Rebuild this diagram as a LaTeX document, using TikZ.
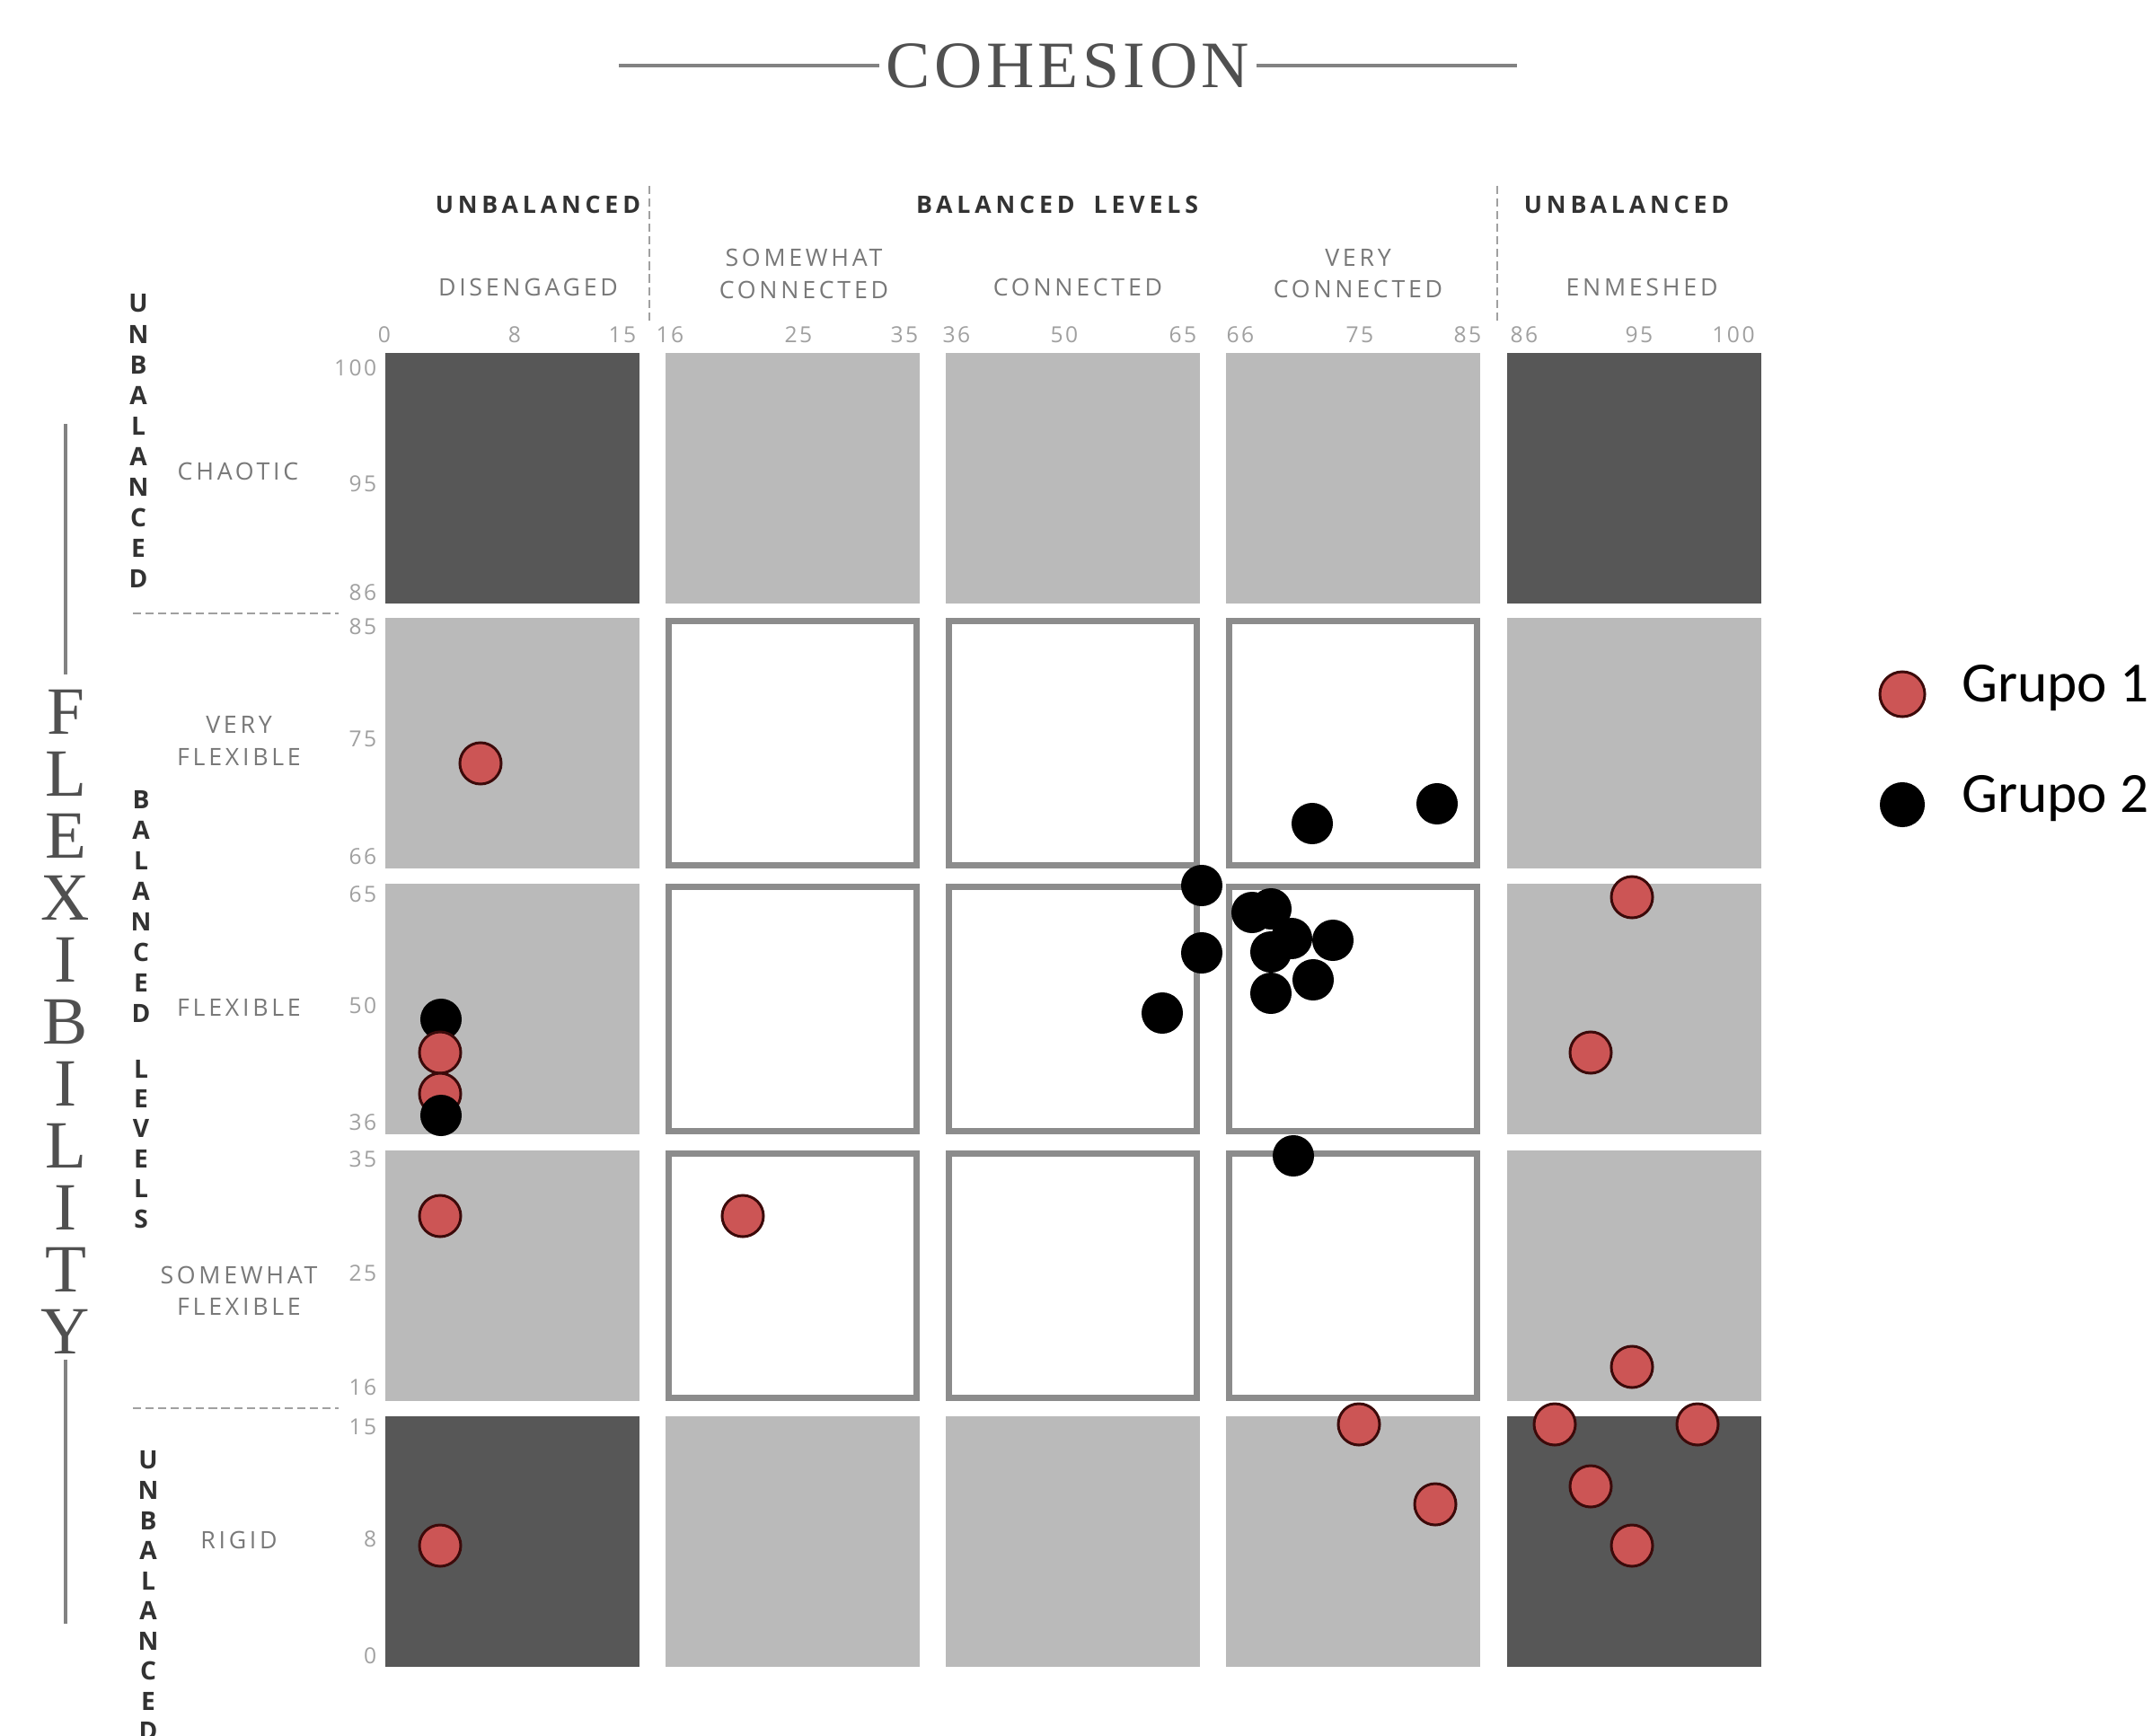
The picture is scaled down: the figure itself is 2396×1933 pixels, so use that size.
\documentclass[tikz,border=0pt]{standalone}
\usepackage{fontspec}
\setmainfont{Liberation Serif}
\setsansfont{Open Sans}
\newfontfamily\gridfont[LetterSpace=14]{Open Sans}
\newfontfamily\headfont[LetterSpace=18]{Open Sans}
\newfontfamily\tickfont[LetterSpace=10]{Open Sans}
\newfontfamily\titlefont[LetterSpace=6]{Liberation Serif}
\newfontfamily\legendfont{Carlito}
\usepackage{tikz}
\usetikzlibrary{positioning}
\definecolor{celldark}{RGB}{87,87,87}
\definecolor{celllight}{RGB}{186,186,186}
\definecolor{cellframe}{RGB}{140,140,140}
\definecolor{grupored}{RGB}{204,85,85}
\definecolor{grupoedge}{RGB}{60,10,10}
\definecolor{tickgray}{RGB}{160,160,160}
\definecolor{labelgray}{RGB}{120,120,120}
\definecolor{headdark}{RGB}{50,50,50}
\definecolor{titlegray}{RGB}{80,80,80}
\definecolor{rulegray}{RGB}{130,130,130}
\tikzset{
  titletext/.style={font=\titlefont\fontsize{21}{24}\selectfont, text=titlegray, inner sep=2pt},
  titlerule/.style={draw=rulegray, line width=1.4pt},
  flexletter/.style={font=\rmfamily\fontsize{21.4}{24}\selectfont, text=titlegray, inner sep=0pt},
  sideletter/.style={font=\sffamily\bfseries\fontsize{8}{9}\selectfont, text=headdark, inner sep=0pt},
  sepline/.style={draw=tickgray, line width=0.8pt, dash pattern=on 2.6pt off 1.4pt},
  headtext/.style={font=\headfont\bfseries\fontsize{7.6}{10}\selectfont, text=headdark, inner sep=0pt},
  gridtext/.style={font=\gridfont\fontsize{7.6}{10}\selectfont, text=labelgray, align=center, inner sep=0pt},
  ticktext/.style={font=\tickfont\fontsize{7}{8}\selectfont, text=tickgray, inner sep=0pt},
  lightcell/.style={fill=celllight},
  darkcell/.style={fill=celldark},
  framecell/.style={fill=white, draw=cellframe, line width=2pt},
  markA/.style={fill=grupored, draw=grupoedge, line width=0.85pt},
  markB/.style={fill=black},
  legdot/.style={circle, minimum size=0.5cm, inner sep=0pt, line width=0.85pt},
  legtext/.style={font=\legendfont\fontsize{18}{22}\selectfont, inner sep=0pt}
}

\begin{document}
\begin{tikzpicture}[x=0.01cm, y=-0.01cm]
        \clip (0,0) rectangle (2396,1933);
        % Title
        \node[titletext] (cohesion) at (1189,73) {COHESION};
        \draw[titlerule] (cohesion.west) -- ++(-290,0);
        \draw[titlerule] (cohesion.east) -- ++(290,0);
        % FLEXIBILITY, one letter under the other
        \foreach \l [count=\i from 0] in {F,L,E,X,I,B,I,L,I,T,Y}
          \node[flexletter] (flex\i) at (73,{793+69*\i}) {\l};
        \draw[titlerule] ([yshift=4.7pt]flex0.north) -- ++(0,-279);
        \draw[titlerule] ([yshift=-1.6pt]flex10.south) -- ++(0,294);
        % Side captions
        \foreach \l [count=\i from 0] in {U,N,B,A,L,A,N,C,E,D}
          \node[sideletter] (unbtop\i) at (154,{338+34*\i}) {\l};
        \foreach \l [count=\i from 0] in {B,A,L,A,N,C,E,D}
          \node[sideletter] (bal\i) at (157,{890+34*\i}) {\l};
        \foreach \l [count=\i from 0] in {L,E,V,E,L,S}
          \node[sideletter] (lev\i) at (157,{1190+33.4*\i}) {\l};
        \foreach \l [count=\i from 0] in {U,N,B,A,L,A,N,C,E,D}
          \node[sideletter] (unbbot\i) at (165,{1626+33.5*\i}) {\l};
        % Dashed separators
        \draw[sepline] (148,683) -- (377,683);
        \draw[sepline] (148,1568) -- (377,1568);
        \draw[sepline] (723,207) -- (723,357);
        \draw[sepline] (1667,207) -- (1667,357);
        % Column headings
        \node[headtext] (hunbl) at (599,228) {UNBALANCED};
        \node[headtext] (hbal) at (1177,228) {BALANCED\hspace{6pt}LEVELS};
        \node[headtext] (hunbr) at (1811,228) {UNBALANCED};
        \node[gridtext] (hdis) at (588,320) {DISENGAGED};
        \node[gridtext] (hsom) at (895,305) {SOMEWHAT\\CONNECTED};
        \node[gridtext] (hcon) at (1200,320) {CONNECTED};
        \node[gridtext] (hvery) at (1512,305) {VERY\\CONNECTED};
        \node[gridtext] (hen) at (1828,320) {ENMESHED};
        % Row headings
        \node[gridtext] (rchaotic) at (265,525) {CHAOTIC};
        \node[gridtext] (rveryflex) at (266,825) {VERY\\FLEXIBLE};
        \node[gridtext] (rflex) at (266,1122) {FLEXIBLE};
        \node[gridtext] (rsomeflex) at (266,1437) {SOMEWHAT\\FLEXIBLE};
        \node[gridtext] (rrigid) at (266,1715) {RIGID};
        % Tick labels
        \foreach \v/\x in {0/428,8/573,15/693,16/746,25/889,35/1007,36/1065,50/1185,
                           65/1317,66/1381,75/1514,85/1634,86/1697,95/1825,100/1930}
          \node[ticktext] (tx\v) at (\x,373) {\v};
        \foreach \v/\y in {100/410,95/539,86/660,85/698,75/823,66/954,65/996,50/1120,
                           36/1250,35/1291,25/1418,16/1545,15/1589,8/1714,0/1844}
          \node[ticktext, anchor=east] (ty\v) at (420,\y) {\v};
        % Cells
        \foreach \x in {429,741,1053,1365,1678}
          \foreach \y in {393,688,984,1281,1577}
            \fill[lightcell] (\x,\y) rectangle ++(283,279);
        \foreach \x/\y in {429/393,1678/393,429/1577,1678/1577}
          \fill[darkcell] (\x,\y) rectangle ++(283,279);
        \foreach \x in {741,1053,1365}
          \foreach \y in {688,984,1281}
            \draw[framecell] (\x+3.5,\y+3.5) rectangle ++(276,272);
        % Grupo 2
        \foreach \x/\y in {491/1135,1294/1128,1338/986,1338/1061,1461/917,1600/895,
                           1440/1287,1394/1016,1415/1012,1438/1045,1415/1060,
                           1484/1047,1462/1091,1415/1106}
          \path[markB] (\x,\y) circle[radius=0.23cm];
        % Grupo 1
        \foreach \x/\y in {535/850,490/1172,490/1218,490/1354,827/1354,490/1721,
                           1817/999,1771/1172,1817/1522,1513/1586,1598/1675,
                           1731/1586,1890/1586,1771/1655,1817/1721}
          \path[markA] (\x,\y) circle[radius=0.23cm];
        % lies over the red one above it
        \path[markB] (491,1242) circle[radius=0.23cm];
        % Legend
        \node[legdot, fill=grupored, draw=grupoedge] (legdotA) at (2118,773) {};
        \node[legtext, right=0.39cm of legdotA, anchor=mid west] (legtextA) {Grupo 1};
        \node[legdot, fill=black] (legdotB) at (2118,896) {};
        \node[legtext, right=0.39cm of legdotB, anchor=mid west] (legtextB) {Grupo 2};
      \end{tikzpicture}
\end{document}
